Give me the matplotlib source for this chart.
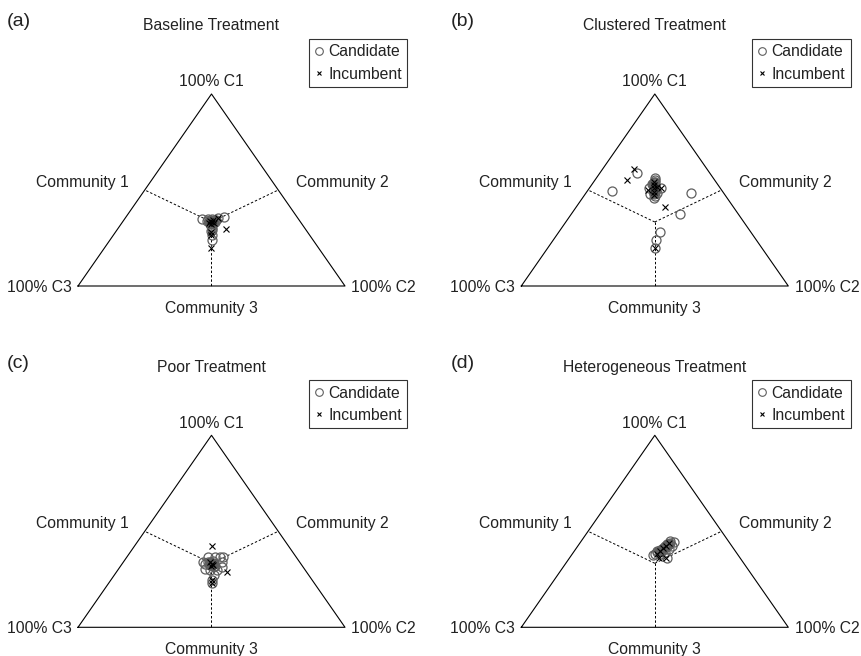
"""Ternary scatter of candidate and incumbent community shares, four treatments."""

import matplotlib

matplotlib.use("Agg")

import matplotlib.pyplot as plt
import numpy as np
from matplotlib.lines import Line2D

plt.rcParams["font.family"] = ["Liberation Sans", "DejaVu Sans"]

W, H = 862, 656

panels = ["(a)", "(b)", "(c)", "(d)"]
titles = ["Baseline Treatment", "Clustered Treatment", "Poor Treatment", "Heterogeneous Treatment"]

# shares of community 1 and community 2 (community 3 is the rest)
cand_c1 = [
    [0.349, 0.360, 0.349, 0.344, 0.349, 0.344, 0.333, 0.333, 0.333, 0.333, 0.323, 0.323,
     0.313, 0.339, 0.344, 0.302, 0.286, 0.354, 0.292, 0.266, 0.240,
     0.338, 0.336, 0.330, 0.341, 0.334, 0.327, 0.336, 0.331, 0.339, 0.329,
     0.335, 0.333, 0.337, 0.332, 0.334, 0.336, 0.331, 0.338],
    [0.587, 0.496, 0.486, 0.373, 0.280, 0.240, 0.196, 0.564, 0.512, 0.478, 0.457, 0.509,
     0.543, 0.517, 0.491, 0.531, 0.483,
     0.550, 0.530, 0.520, 0.505, 0.495, 0.485, 0.470, 0.540, 0.500, 0.515,
     0.525, 0.510, 0.500, 0.490, 0.535, 0.520, 0.505, 0.480],
    [0.329, 0.365, 0.365, 0.365, 0.339, 0.314, 0.296, 0.296, 0.305, 0.339, 0.271, 0.329,
     0.320, 0.339, 0.367, 0.231, 0.245,
     0.335, 0.325, 0.332, 0.340, 0.322, 0.328, 0.336, 0.318, 0.344, 0.330,
     0.331, 0.327, 0.333, 0.329, 0.326, 0.334, 0.330, 0.328],
    [0.452, 0.443, 0.435, 0.426, 0.409, 0.400, 0.383, 0.383, 0.391, 0.409, 0.359, 0.376,
     0.405, 0.421, 0.436,
     0.395, 0.400, 0.410, 0.415, 0.420, 0.430, 0.440, 0.390, 0.405, 0.425,
     0.398, 0.408, 0.418, 0.428, 0.412, 0.402, 0.422, 0.433],
]
cand_c2 = [
    [0.291, 0.367, 0.312, 0.322, 0.327, 0.337, 0.324, 0.332, 0.339, 0.347, 0.333, 0.340,
     0.342, 0.314, 0.345, 0.351, 0.355, 0.347, 0.355, 0.368, 0.381,
     0.330, 0.335, 0.334, 0.328, 0.338, 0.336, 0.324, 0.329, 0.333, 0.341,
     0.333, 0.331, 0.336, 0.338, 0.329, 0.332, 0.335, 0.327],
    [0.138, 0.090, 0.392, 0.408, 0.380, 0.385, 0.402, 0.218, 0.269, 0.242, 0.268, 0.223,
     0.228, 0.241, 0.254, 0.225, 0.266,
     0.225, 0.230, 0.240, 0.243, 0.252, 0.253, 0.265, 0.226, 0.249, 0.238,
     0.234, 0.243, 0.247, 0.252, 0.231, 0.238, 0.245, 0.258],
    [0.311, 0.306, 0.331, 0.350, 0.369, 0.381, 0.372, 0.346, 0.324, 0.300, 0.372, 0.336,
     0.353, 0.319, 0.358, 0.385, 0.378,
     0.330, 0.340, 0.345, 0.325, 0.335, 0.328, 0.338, 0.350, 0.332, 0.342,
     0.334, 0.337, 0.331, 0.340, 0.333, 0.336, 0.339, 0.332],
    [0.332, 0.349, 0.328, 0.351, 0.328, 0.308, 0.310, 0.329, 0.343, 0.347, 0.367, 0.307,
     0.325, 0.329, 0.332,
     0.318, 0.322, 0.325, 0.330, 0.327, 0.333, 0.336, 0.315, 0.320, 0.331,
     0.321, 0.326, 0.329, 0.334, 0.325, 0.319, 0.331, 0.335],
]
inc_c1 = [
    [0.295, 0.196, 0.266, 0.279, 0.339, 0.333, 0.344, 0.323, 0.328, 0.328, 0.354],
    [0.609, 0.552, 0.413, 0.196, 0.512, 0.543, 0.526, 0.509, 0.491, 0.474, 0.500, 0.517],
    [0.421, 0.288, 0.231, 0.245, 0.329, 0.339, 0.322, 0.317],
    [0.359, 0.359, 0.400, 0.415, 0.426, 0.441, 0.384],
]
inc_c2 = [
    [0.406, 0.400, 0.365, 0.358, 0.325, 0.335, 0.334, 0.337, 0.345, 0.327, 0.347],
    [0.117, 0.120, 0.332, 0.402, 0.269, 0.226, 0.235, 0.243, 0.252, 0.261, 0.225, 0.248],
    [0.290, 0.413, 0.385, 0.378, 0.336, 0.325, 0.346, 0.339],
    [0.336, 0.361, 0.320, 0.324, 0.330, 0.333, 0.317],
]

# triangle box of panel (a) in pixels, other panels are shifted copies
TRI_LEFT, TRI_BOTTOM, TRI_W, TRI_H = 78, 286, 267, 192
OFFSETS = [(0, 0), (443.3, 0), (0, 341.3), (443.3, 341.3)]
TEXT = "#222222"
CIRCLE = "#5f5f5f"
FS = 11.3


def to_xy(c1, c2):
    c1 = np.asarray(c1, dtype=float)
    c2 = np.asarray(c2, dtype=float)
    return c2 + 0.5 * c1, c1


def put(fig, px, py, s, **kw):
    kw.setdefault("fontsize", FS)
    kw.setdefault("color", TEXT)
    fig.text(px / W, 1 - py / H, s, **kw)


def draw_panel(fig, i):
    dx, dy = OFFSETS[i]
    left = TRI_LEFT + dx
    bottom = TRI_BOTTOM + dy
    ax = fig.add_axes([left / W, 1 - bottom / H, TRI_W / W, TRI_H / H])
    ax.set_xlim(0, 1)
    ax.set_ylim(0, 1)
    ax.axis("off")

    ax.plot([0, 1, 0.5, 0], [0, 0, 1, 0], color="black", lw=0.8, clip_on=False)
    cx, cy = to_xy(1 / 3, 1 / 3)
    for mx, my in [(0.25, 0.5), (0.75, 0.5), (0.5, 0.0)]:
        ax.plot([cx, mx], [cy, my], color="black", lw=0.7, ls=(0, (2.5, 2)), clip_on=False)

    x, y = to_xy(cand_c1[i], cand_c2[i])
    ax.plot(x, y, "o", ms=6.5, mfc="none", mec=CIRCLE, mew=0.9, ls="none", clip_on=False)
    x, y = to_xy(inc_c1[i], inc_c2[i])
    ax.plot(x, y, "x", ms=4, color="black", mew=0.8, ls="none", clip_on=False)

    put(fig, 7 + dx, 22 + dy, panels[i], fontsize=14, ha="left", va="center")
    put(fig, 211.5 + dx, 26 + dy, titles[i], ha="center", va="center")
    put(fig, 211 + dx, 82 + dy, "100% C1", ha="center", va="center")
    put(fig, 82 + dx, 182 + dy, "Community 1", ha="center", va="center")
    put(fig, 342.5 + dx, 182 + dy, "Community 2", ha="center", va="center")
    put(fig, 72 + dx, 287 + dy, "100% C3", ha="right", va="center")
    put(fig, 351.5 + dx, 287 + dy, "100% C2", ha="left", va="center")
    put(fig, 211 + dx, 308 + dy, "Community 3", ha="center", va="center")

    handles = [
        Line2D([], [], marker="o", ls="none", ms=5.5, mfc="none", mec=CIRCLE, mew=0.8),
        Line2D([], [], marker="x", ls="none", ms=3.5, color="black", mew=0.8),
    ]
    leg = ax.legend(
        handles,
        ["Candidate", "Incumbent"],
        loc="upper right",
        bbox_to_anchor=((407.5 + dx) / W, 1 - (39 + dy) / H),
        bbox_transform=fig.transFigure,
        fontsize=FS,
        frameon=True,
        fancybox=False,
        handlelength=0.6,
        handletextpad=0.3,
        borderpad=0.35,
        borderaxespad=0,
        labelspacing=0.45,
    )
    leg.get_frame().set_edgecolor("black")
    leg.get_frame().set_linewidth(0.8)
    for t in leg.get_texts():
        t.set_color(TEXT)


def main() -> None:
    fig = plt.figure(figsize=(W / 100, H / 100), dpi=100)
    for i in range(4):
        draw_panel(fig, i)
    fig.savefig("out.png", dpi=100)
    plt.close(fig)


if __name__ == "__main__":
    main()
